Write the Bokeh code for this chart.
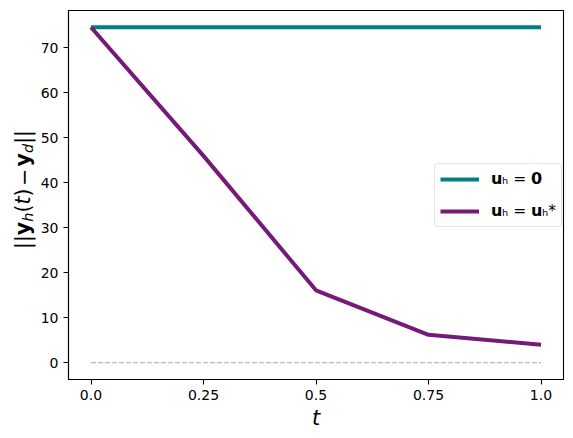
import math
from bokeh.plotting import figure
from bokeh.layouts import row
from bokeh.models import Range1d, FixedTicker, Legend, LegendItem
from bokeh.core.properties import value
from bokeh.embed import file_html
from bokeh.resources import INLINE

# ---- data ----
t_values = [0.0, 0.25, 0.5, 0.75, 1.0]
err_zero_control = [74.6, 74.6, 74.6, 74.6, 74.6]
err_optimal_control = [74.6, 46.0, 16.1, 6.2, 4.0]
zero_level = [0.0, 0.0, 0.0, 0.0, 0.0]
x_tick_values = [0.0, 0.25, 0.5, 0.75, 1.0]
x_tick_labels = ["0.0", "0.25", "0.5", "0.75", "1.0"]
y_tick_values = [0, 10, 20, 30, 40, 50, 60, 70]
legend_labels = ["𝘂ₕ = 𝟬", "𝘂ₕ = 𝘂ₕ*"]

TEAL = "#008080"
PURPLE = "#761a7a"

Y0, Y1 = -3.73, 78.33
FRAME_H = 369
LEFT_W = 36

p = figure(
    frame_width=495, frame_height=FRAME_H,
    x_range=Range1d(-0.05, 1.05), y_range=Range1d(Y0, Y1),
    output_backend="svg", toolbar_location=None,
    min_border_left=68 - LEFT_W, min_border_right=10, min_border_top=10, min_border_bottom=10,
)
p.background_fill_color = "white"
p.border_fill_color = "white"
p.grid.visible = False
p.outline_line_color = "black"
p.outline_line_width = 1.1

for ax in (p.xaxis[0], p.yaxis[0]):
    ax.axis_line_color = "black"
    ax.axis_line_width = 1.1
    ax.major_tick_line_color = "black"
    ax.major_tick_line_width = 1.1
    ax.major_tick_out = 5
    ax.major_tick_in = 0
    ax.minor_tick_line_color = None
    ax.major_label_text_color = "black"
    ax.major_label_text_font = "DejaVu Sans"
    ax.major_label_text_font_size = "14px"
    ax.major_label_standoff = 5

p.xaxis.ticker = FixedTicker(ticks=x_tick_values)
p.xaxis.major_label_overrides = {v: s for v, s in zip(x_tick_values, x_tick_labels)}
p.yaxis.ticker = FixedTicker(ticks=y_tick_values)

p.xaxis.axis_label = "t"
p.xaxis.axis_label_text_font = "DejaVu Sans"
p.xaxis.axis_label_text_font_style = "italic"
p.xaxis.axis_label_text_font_size = "21px"
p.xaxis.axis_label_text_color = "black"
p.xaxis.axis_label_standoff = 3

# ---- lines ----
p.line(t_values, zero_level, line_color="#aaaaaa", line_width=1, line_dash="5 2")
r_zero = p.line(t_values, err_zero_control, line_color=TEAL, line_width=4)
r_opt = p.line(t_values, err_optimal_control, line_color=PURPLE, line_width=4)

legend = Legend(
    items=[LegendItem(label=legend_labels[0], renderers=[r_zero]),
           LegendItem(label=legend_labels[1], renderers=[r_opt])],
    location=(366, 152),
    label_text_font="DejaVu Sans",
    label_text_font_size="15.5px",
    label_text_color="black",
    glyph_width=39, glyph_height=20, label_height=20,
    label_standoff=12, spacing=12, padding=5, margin=0,
    border_line_color="#cccccc", border_line_width=1,
    border_radius=4,
    background_fill_alpha=0.8,
)
p.add_layout(legend, "center")

# ---- y-axis label: a narrow side figure holding rotated text pieces ----
side = figure(
    frame_width=LEFT_W, frame_height=FRAME_H,
    x_range=Range1d(0, LEFT_W), y_range=p.y_range,
    output_backend="svg", toolbar_location=None,
    min_border_left=0, min_border_right=0, min_border_top=10, min_border_bottom=50,
)
side.axis.visible = False
side.grid.visible = False
side.outline_line_color = None
side.background_fill_color = "white"
side.border_fill_color = "white"

MAIN = 20.5
SUB = 14.5
pieces = [
    ("||", "normal", MAIN, 0.674, 0.0, 0.0),
    ("y", "bold", MAIN, 0.655, 0.0, 0.0),
    ("h", "italic", SUB, 0.634, 5.5, 0.0),
    ("(", "normal", MAIN, 0.39, 0.0, 0.0),
    ("t", "italic", MAIN, 0.392, 0.0, 0.0),
    (")", "normal", MAIN, 0.39, 0.0, 0.12),
    ("−", "normal", MAIN, 0.838, 0.0, 0.12),
    ("y", "bold", MAIN, 0.655, 0.0, 0.0),
    ("d", "italic", SUB, 0.635, 5.5, 0.0),
    ("||", "normal", MAIN, 0.674, 0.0, 0.0),
]
px_per_unit = FRAME_H / (Y1 - Y0)
total = sum(sz * w + gap * MAIN for _, _, sz, w, _, gap in pieces)
center_px = 190.0  # above frame bottom
xc = 22.0
ypos = center_px - total / 2
for txt, style, sz, w, shift, gap in pieces:
    side.text(
        x=[xc + shift], y=[Y0 + ypos / px_per_unit], text=[txt],
        angle=math.pi / 2, text_align="left", text_baseline="middle",
        text_font=value("DejaVu Sans"), text_font_style=value(style),
        text_font_size=value(f"{sz}px"), text_color="black",
    )
    ypos += sz * w + gap * MAIN

layout = row(side, p, spacing=0)
open("out.html", "w").write(file_html(layout, INLINE))
